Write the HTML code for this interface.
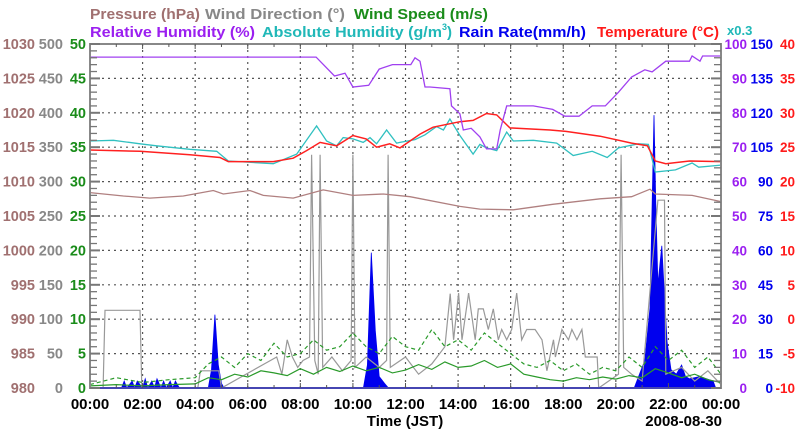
<!DOCTYPE html>
<html><head><meta charset="utf-8"><style>
html,body{margin:0;padding:0;background:#fff;width:800px;height:434px;overflow:hidden}
svg text{font-family:"Liberation Sans",sans-serif;font-weight:bold}
</style></head><body>
<svg id="chart" width="800" height="434" viewBox="0 0 800 434" xmlns="http://www.w3.org/2000/svg">
<g font-size="15">
<text x="90" y="19" textLength="110" lengthAdjust="spacingAndGlyphs" fill="#a07070">Pressure (hPa)</text>
<text x="205" y="19" textLength="140" lengthAdjust="spacingAndGlyphs" fill="#888">Wind Direction (°)</text>
<text x="354" y="19" textLength="134" lengthAdjust="spacingAndGlyphs" fill="#1a8c1a">Wind Speed (m/s)</text>
<text x="90" y="37" textLength="165" lengthAdjust="spacingAndGlyphs" fill="#9b1ff0">Relative Humidity (%)</text>
<text x="262" y="37" fill="#20b8b8"><tspan textLength="180" lengthAdjust="spacingAndGlyphs">Absolute Humidity (g/m</tspan><tspan font-size="9" dy="-7">3</tspan><tspan dy="7">)</tspan></text>
<text x="459" y="37" textLength="127" lengthAdjust="spacingAndGlyphs" fill="#0000ee">Rain Rate(mm/h)</text>
<text x="597" y="37" textLength="122" lengthAdjust="spacingAndGlyphs" fill="#ff1a1a">Temperature (°C)</text>
<text x="727" y="35" font-size="13" fill="#20b8b8">x0.3</text>
</g>
<g id="grid"></g>
<g id="series"></g>
<g id="axes"></g>
</svg>
<script>
var rhHours=[0,8.6,9.3,9.7,10.0,10.6,11.0,11.5,12.2,12.36,12.55,12.74,12.93,13.69,13.75,14.07,14.2,14.5,14.83,15.08,15.47,15.6,15.85,16.86,17.6,18.06,18.6,19.1,19.6,20.1,20.6,21.1,21.38,21.9,22.8,22.9,23.2,23.3,24];
var rhVals=[96.2,96.2,90.7,91.5,87.5,88,92.7,94,94,96,95,87.5,87.5,87,82,79.7,75,75.5,73,69.5,69.5,75,82,82,81,79,79,82,82,86,90.4,92.5,91.9,95,95,96.5,95,96.5,96.5];
var tHours=[0,1.9,3.8,4.94,5.26,6.97,7.73,8.24,8.75,9.38,10.0,10.5,10.9,11.4,11.79,12.55,13.05,14.07,14.57,15.08,15.47,15.97,17.5,18.1,19.4,20.6,21.2,21.5,21.9,22.8,24];
var tVals=[24.6,24.4,23.9,23.5,22.9,22.9,23.4,24.5,25.7,25.2,26.7,26.2,25.0,25.5,24.9,26.9,27.9,28.7,28.9,29.9,29.7,27.8,27.5,27.3,26.6,25.6,25.2,23.0,22.6,23.0,22.9];
var ahHours=[0,0.89,1.9,2.53,3.8,4.82,5.26,6.97,7.86,8.62,9.0,9.38,9.63,10.0,10.39,10.65,10.9,11.28,11.66,11.79,12.36,12.74,13.18,13.44,13.69,14.07,14.57,14.83,15.08,15.47,15.85,16.1,16.86,17.75,18.38,19.1,19.67,20.1,20.86,21.24,21.5,22.27,22.9,23.15,24];
var ahVals=[35.9,36,35.5,35.2,34.7,34.4,33.0,32.6,34,38.1,35.9,35.2,36.4,36.2,35.7,36.4,35.5,37.5,35.6,35.7,36.1,36.8,38,37.5,39.1,36.7,34.0,35.4,34.9,34.5,37.2,35.9,36,35.6,33.8,34.4,33.5,34.9,35.5,35.4,31.4,31.7,32.7,32.1,32.4];
var pHours=[0,1.27,2.28,3.55,4.69,5.07,6.08,6.59,7.73,8.87,10.0,11.15,12.17,14.07,14.83,16.1,17.6,19.4,20.6,21.3,21.5,22.9,24];
var pVals=[1008.4,1007.9,1007.6,1007.9,1008.7,1008.2,1008.7,1008.0,1007.6,1008.8,1008.0,1008.2,1007.8,1006.4,1006.0,1005.9,1006.7,1007.5,1007.8,1008.9,1008.2,1008.0,1007.1];
var wdHours=[0,0.5,0.57,1.9,1.97,4.1,4.2,4.9,5.0,7.1,7.3,7.5,7.7,7.9,8.1,8.35,8.43,8.55,8.68,8.75,8.85,9.2,9.6,9.93,10.0,10.08,10.5,11.0,11.28,11.34,11.42,12.0,12.5,13.0,13.5,13.7,13.83,14.02,14.15,14.4,14.65,14.77,14.96,15.15,15.34,15.53,15.66,15.85,16.04,16.23,16.42,16.61,16.93,17.19,17.38,17.63,17.7,17.95,18.2,18.33,18.52,18.71,18.84,19.29,19.35,20.1,20.2,20.3,20.6,21.0,21.6,21.85,21.9,22.5,23.0,23.5,24];
var wdVals=[0,0,113,113,0,0,25,25,0,45,20,70,45,30,40,45,339,40,20,339,30,45,25,40,339,30,45,30,40,339,30,45,20,35,60,137,70,138,70,138,70,115,115,85,115,70,85,70,85,138,70,85,85,70,25,70,45,85,70,85,70,85,45,45,0,20,339,30,20,10,273,273,20,30,10,25,5];
var wsHours=[0,1,2,3,4,4.5,5,5.5,6,6.5,7,7.5,8,8.5,9,9.5,10,10.5,11,11.5,12,12.5,13,13.5,14,14.5,15,15.5,16,16.5,17,17.5,18,18.5,19,19.5,20,20.5,21,21.5,22,22.5,23,23.5,24];
var wsSolid=[0.3,0.5,0.3,0.5,0.6,1.5,1.2,2,1.6,2.5,2.2,1.8,2.8,2,3,2.4,3.2,2.5,3,2.2,2.6,3.4,2.7,3.8,3,3.2,4,3,3.5,2,1.6,1.2,1,1.5,1.2,1.6,1.3,1.8,1.5,2.8,2.2,1.5,2,1.2,0.8];
var wsDash=[0.5,1.5,0.8,1.2,1.5,3.5,4.5,3,5,4,6.5,4.5,5,7,5.5,6,8,6,5,7.5,6,5.5,8.5,6,7,5.5,8,6.5,5,3.5,3,4,2.5,3.5,2,3,2.5,4.5,3,6,4,5.5,3,4.5,2];
var rainHours=[0,1.2,1.3,1.4,1.6,1.7,1.8,2.0,2.1,2.2,2.35,2.45,2.55,2.7,2.8,2.9,3.05,3.15,3.25,3.4,4.5,4.62,4.75,4.88,5.0,5.1,10.4,10.55,10.7,10.85,11.0,11.2,11.35,20.7,20.9,21.1,21.3,21.45,21.52,21.6,21.75,21.85,21.95,22.1,22.3,22.5,22.65,22.8,23.2,23.7,23.8,24];
var rainVals=[0,0,3,0,3,0,3,0,4,0,3,0,4,0,3,0,3,0,3,0,0,8,32,10,2,0,0,10,59,25,5,2,0,0,6,12,35,119,80,45,62,40,20,8,6,10,5,4,5,3,0,0];
var X0=90,X1=721,Y0=44,Y1=388;
function xs(h){return X0+(X1-X0)*h/24;}
function ys(v,lo,hi){return Y1-(Y1-Y0)*(v-lo)/(hi-lo);}
var NS="http://www.w3.org/2000/svg";
function el(tag,parent){var e=document.createElementNS(NS,tag);parent.appendChild(e);return e;}
var grid=document.getElementById('grid'),series=document.getElementById('series'),axes=document.getElementById('axes');
for(var i=1;i<12;i++){var gl=el('line',grid);


gl.setAttribute('x1',xs(i*2));gl.setAttribute('x2',xs(i*2));gl.setAttribute('y1',Y0);gl.setAttribute('y2',Y1);gl.setAttribute('stroke','#555');gl.setAttribute('stroke-dasharray','2,4');gl.setAttribute('stroke-width','1.2');}
for(var j=1;j<10;j++){var y=Y1-(Y1-Y0)*j/10;var hl=el('line',grid);


hl.setAttribute('x1',X0);hl.setAttribute('x2',X1);hl.setAttribute('y1',y);hl.setAttribute('y2',y);hl.setAttribute('stroke','#555');hl.setAttribute('stroke-dasharray','2,4');hl.setAttribute('stroke-width','1.2');}
function line(hours,vals,lo,hi,color,name,dash,w){var d='';for(var k=0;k<hours.length;k++){d+=(k?'L':'M')+xs(hours[k]).toFixed(1)+','+ys(vals[k],lo,hi).toFixed(1);}
var p=el('path',series);


p.setAttribute('d',d);p.setAttribute('fill','none');p.setAttribute('stroke',color);p.setAttribute('stroke-width',w||1.3);if(dash)p.setAttribute('stroke-dasharray',dash);return p;}
(function(){var d='M'+xs(rainHours[0])+','+Y1;for(var k=0;k<rainHours.length;k++){d+='L'+xs(rainHours[k]).toFixed(1)+','+ys(rainVals[k],0,150).toFixed(1);}d+='L'+xs(rainHours[rainHours.length-1])+','+Y1+'Z';
var p=el('path',series);


p.setAttribute('d',d);p.setAttribute('fill','#0000ee');p.setAttribute('stroke','#0000ee');p.setAttribute('stroke-width','0.8');})();
line(wdHours,wdVals,0,500,'#999','wind-direction-line',null,1.2);
line(wsHours,wsDash,0,50,'#2a9a2a','wind-speed-gust-line','4,3',1.2);
line(wsHours,wsSolid,0,50,'#2a9a2a','wind-speed-line',null,1.2);
line(pHours,pVals,980,1030,'#b08080','pressure-line',null,1.3);
line(ahHours,ahVals,0,50,'#30c0c0','absolute-humidity-line',null,1.3);
line(tHours,tVals,-10,40,'#ff2020','temperature-line',null,1.5);
line(rhHours,rhVals,0,100,'#a040f0','relative-humidity-line',null,1.3);
var fr=el('rect',axes);


fr.setAttribute('x',X0);fr.setAttribute('y',Y0);fr.setAttribute('width',X1-X0);fr.setAttribute('height',Y1-Y0);fr.setAttribute('fill','none');fr.setAttribute('stroke','#888');fr.setAttribute('stroke-width','2');
var bl=el('line',axes);


bl.setAttribute('x1',X0);bl.setAttribute('x2',X1);bl.setAttribute('y1',Y1);bl.setAttribute('y2',Y1);bl.setAttribute('stroke','#3030c0');bl.setAttribute('stroke-width','1.5');
for(var m=0;m<=50;m++){var yy=Y1-(Y1-Y0)*m/50;var len=(m%5==0)?10:7;
var t1=el('line',axes);


t1.setAttribute('x1',X0);t1.setAttribute('x2',X0+len);t1.setAttribute('y1',yy);t1.setAttribute('y2',yy);t1.setAttribute('stroke','#777');t1.setAttribute('stroke-width',m%5==0?2:1.3);
var t2=el('line',axes);


t2.setAttribute('x1',X1-len);t2.setAttribute('x2',X1);t2.setAttribute('y1',yy);t2.setAttribute('y2',yy);t2.setAttribute('stroke','#777');t2.setAttribute('stroke-width',m%5==0?2:1.3);}
for(var h=1;h<24;h++){var tt=el('line',axes);


tt.setAttribute('x1',xs(h));tt.setAttribute('x2',xs(h));tt.setAttribute('y1',Y1);tt.setAttribute('y2',Y1-(h%2?3:5));tt.setAttribute('stroke','#555');
var tp=el('line',axes);


tp.setAttribute('x1',xs(h));tp.setAttribute('x2',xs(h));tp.setAttribute('y1',Y0);tp.setAttribute('y2',Y0+(h%2?3:5));tp.setAttribute('stroke','#555');}
var pLabels=['980','985','990','995','1000','1005','1010','1015','1020','1025','1030'];
var wdLabels=['0','50','100','150','200','250','300','350','400','450','500'];
var wsLabels=['0','5','10','15','20','25','30','35','40','45','50'];
var rhLabels=['0','10','20','30','40','50','60','70','80','90','100'];
var rrLabels=['0','15','30','45','60','75','90','105','120','135','150'];
var tLabels=['-10','-5','0','5','10','15','20','25','30','35','40'];
var timeLabels=['00:00','02:00','04:00','06:00','08:00','10:00','12:00','14:00','16:00','18:00','20:00','22:00','00:00'];
function label(txt,x,y,anchor,color,name,size){var t=el('text',axes);


t.setAttribute('x',x);t.setAttribute('y',y);t.setAttribute('text-anchor',anchor);t.setAttribute('fill',color);t.setAttribute('font-size',size||14.5);t.textContent=txt;return t;}
for(var q=0;q<=10;q++){var yb=Y1-(Y1-Y0)*q/10+5;
label(pLabels[q],35,yb,'end','#a07070','pressure-tick-label');
label(wdLabels[q],63,yb,'end','#888','wind-direction-tick-label');
label(wsLabels[q],86,yb,'end','#1a8c1a','wind-speed-tick-label');
label(rhLabels[q],747,yb,'end','#9b1ff0','humidity-tick-label',13.5);
label(rrLabels[q],773,yb,'end','#0000ee','rain-tick-label',13.5);
label(tLabels[q],795,yb,'end','#ff1a1a','temperature-tick-label',13.5);}
for(var r=0;r<timeLabels.length;r++){label(timeLabels[r],xs(r*2),409,'middle','#000','time-tick-label',15);}
label('Time (JST)',405,426,'middle','#000','x-axis-title',15);
label('2008-08-30',722,426,'end','#000','date-label',15);
</script>
</body></html>
